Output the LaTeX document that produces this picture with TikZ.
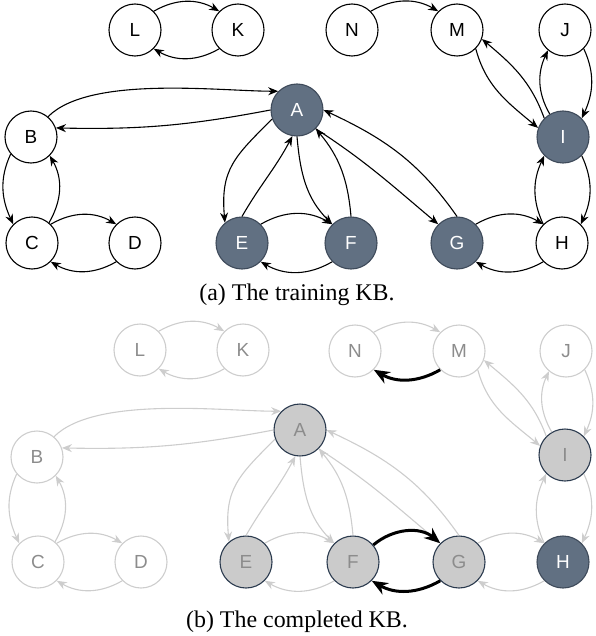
\documentclass[tikz,border=0pt]{standalone}
\usepackage{fontspec}
\setmainfont{Liberation Serif}
\setsansfont{Liberation Sans}
\usetikzlibrary{arrows.meta}
\definecolor{slate}{RGB}{97,112,130}
\definecolor{slateline}{RGB}{62,74,90}
\definecolor{fadeline}{RGB}{205,205,205}
\definecolor{fadetext}{RGB}{140,140,140}
\definecolor{guessfill}{RGB}{203,203,203}
\definecolor{navyline}{RGB}{42,58,78}
\tikzset{
  ent/.style={draw, circle, minimum size=52bp, inner sep=0pt, line width=1.1bp,
    font=\sffamily\fontsize{19}{19}\selectfont},
  seen/.style={ent, fill=slate, draw=slateline, text=white},
  faded/.style={ent, draw=fadeline, text=fadetext},
  guessed/.style={ent, fill=guessfill, draw=navyline, text=fadetext},
  rel/.style={draw, line width=1.1bp, -{Stealth[length=10bp,width=8bp]}},
  oldrel/.style={rel, draw=fadeline},
  newrel/.style={draw, line width=3bp, -{Stealth[length=16bp,width=13bp]}},
  caption/.style={anchor=base, font=\fontsize{24}{28}\selectfont},
}
\begin{document}
\begin{tikzpicture}[x=1bp, y=1bp]
\useasboundingbox (0,0) rectangle (596,-636);
% (a) the training KB
\node[ent] (L) at (135,-30) {L};
\node[ent] (K) at (238,-30) {K};
\node[ent] (N) at (352,-30) {N};
\node[ent] (M) at (457,-30) {M};
\node[ent] (J) at (565,-30) {J};
\node[ent] (B) at (31,-137) {B};
\node[seen] (A) at (297,-110) {A};
\node[seen] (I) at (563,-137) {I};
\node[ent] (C) at (32,-243) {C};
\node[ent] (D) at (135,-243) {D};
\node[seen] (E) at (242,-243) {E};
\node[seen] (F) at (351,-243) {F};
\node[seen] (G) at (457,-243) {G};
\node[ent] (H) at (562,-243) {H};
\path[rel] (L.45) to[out=30,in=150] (K.135);
\path[rel] (K.-135) to[out=-150,in=-30] (L.-45);
\path[rel] (N.45) to[out=30,in=150] (M.135);
\path[rel] (B.50) to[out=45,in=180,looseness=0.65] (A.135);
\path[rel] (A.180) to[bend left=6] (B.20);
\path[rel] (B.-140) to[out=-115,in=115] (C.135);
\path[rel] (C.50) to[out=60,in=-60] (B.-45);
\path[rel] (C.45) to[out=30,in=150] (D.135);
\path[rel] (D.-135) to[out=-150,in=-30] (C.-45);
\path[rel] (A.-160) to[out=-135,in=95,looseness=1.2] (E.130);
\path[rel] (E.90) to[out=60,in=-118] (A.-100);
\path[rel] (A.-90) to[out=-85,in=135] (F.135);
\path[rel] (F.90) to[out=95,in=-50] (A.-45);
\path[rel] (A.-45) to[out=-33,in=140] (G.135);
\path[rel] (G.90) to[out=125,in=-25] (A.0);
\path[rel] (E.45) to[out=30,in=150] (F.135);
\path[rel] (F.-135) to[out=-150,in=-30] (E.-45);
\path[rel] (G.45) to[out=30,in=150] (H.135);
\path[rel] (H.-135) to[out=-150,in=-30] (G.-45);
\path[rel] (H.135) to[out=115,in=-115] (I.-135);
\path[rel] (I.-45) to[out=-65,in=65] (H.45);
\path[rel] (I.120) to[out=120,in=-115] (J.-130);
\path[rel] (J.-45) to[out=-65,in=65] (I.45);
\path[rel] (M.-45) to[out=-75,in=140] (I.160);
\path[rel] (I.135) to[out=110,in=-40] (M.-20);
\node[caption] (capa) at (297,-300) {(a) The training KB.};
% (b) the completed KB
\node[faded] (L2) at (140,-350) {L};
\node[faded] (K2) at (243,-350) {K};
\node[faded] (N2) at (355,-351) {N};
\node[faded] (M2) at (459,-351) {M};
\node[faded] (J2) at (566,-351) {J};
\node[faded] (B2) at (37,-457) {B};
\node[guessed] (A2) at (300,-430) {A};
\node[guessed] (I2) at (565,-455) {I};
\node[faded] (C2) at (38,-562) {C};
\node[faded] (D2) at (141,-562) {D};
\node[guessed] (E2) at (246,-562) {E};
\node[guessed] (F2) at (353,-562) {F};
\node[guessed] (G2) at (459,-562) {G};
\node[seen] (H2) at (563,-562) {H};
\path[oldrel] (L2.45) to[out=30,in=150] (K2.135);
\path[oldrel] (K2.-135) to[out=-150,in=-30] (L2.-45);
\path[oldrel] (N2.45) to[out=30,in=150] (M2.135);
\path[oldrel] (B2.50) to[out=45,in=180,looseness=0.65] (A2.135);
\path[oldrel] (A2.180) to[bend left=6] (B2.20);
\path[oldrel] (B2.-140) to[out=-115,in=115] (C2.135);
\path[oldrel] (C2.50) to[out=60,in=-60] (B2.-45);
\path[oldrel] (C2.45) to[out=30,in=150] (D2.135);
\path[oldrel] (D2.-135) to[out=-150,in=-30] (C2.-45);
\path[oldrel] (A2.-160) to[out=-135,in=95,looseness=1.2] (E2.130);
\path[oldrel] (E2.90) to[out=60,in=-118] (A2.-100);
\path[oldrel] (A2.-90) to[out=-85,in=135] (F2.135);
\path[oldrel] (F2.90) to[out=95,in=-50] (A2.-45);
\path[oldrel] (A2.-45) to[out=-33,in=140] (G2.135);
\path[oldrel] (G2.90) to[out=125,in=-25] (A2.0);
\path[oldrel] (E2.45) to[out=30,in=150] (F2.135);
\path[oldrel] (F2.-135) to[out=-150,in=-30] (E2.-45);
\path[oldrel] (G2.45) to[out=30,in=150] (H2.135);
\path[oldrel] (H2.-135) to[out=-150,in=-30] (G2.-45);
\path[oldrel] (H2.135) to[out=115,in=-115] (I2.-135);
\path[oldrel] (I2.-45) to[out=-65,in=65] (H2.45);
\path[oldrel] (I2.120) to[out=120,in=-115] (J2.-130);
\path[oldrel] (J2.-45) to[out=-65,in=65] (I2.45);
\path[oldrel] (M2.-45) to[out=-75,in=140] (I2.160);
\path[oldrel] (I2.135) to[out=110,in=-40] (M2.-20);
% inferred facts
\path[newrel] (M2.-135) to[out=-150,in=-30] (N2.-45);
\path[newrel] (F2.40) to[out=40,in=140] (G2.135);
\path[newrel] (G2.-135) to[out=-150,in=-30] (F2.-45);
\node[caption] (capb) at (297,-627) {(b) The completed KB.};
\end{tikzpicture}
\end{document}
